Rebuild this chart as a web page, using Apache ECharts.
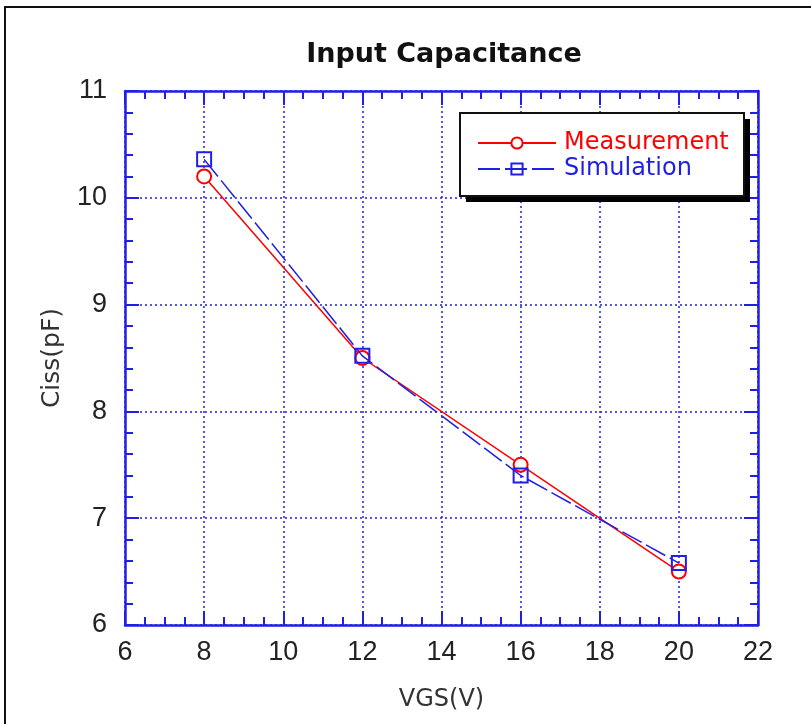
<!DOCTYPE html>
<html>
<head>
<meta charset="utf-8">
<script src="https://cdn.jsdelivr.net/npm/echarts@6/dist/echarts.min.js"></script>
<style>
  html, body { margin: 0; padding: 0; background: #fff; }
  #chart { width: 811px; height: 724px; }
</style>
</head>
<body>
<div id="chart"></div>
<script>
// data
var vgs = [8, 12, 16, 20]
var measurement = [10.2, 8.5, 7.5, 6.5]
var simulation = [10.36, 8.52, 7.4, 6.58]

var blue = '#1f1fe6'
var labelFont = 'Liberation Sans'
var textFont = 'DejaVu Sans'

function pairs(xs, ys) {
  return xs.map(function (x, i) { return [x, ys[i]] })
}

var chart = echarts.init(document.getElementById('chart'))

function axisBase(showLabel, showSplit, split) {
  return {
    type: 'value',
    axisLine: { show: true, lineStyle: { color: blue, width: 2.5 } },
    axisTick: { show: true, inside: true, length: 14, lineStyle: { color: blue, width: 2 } },
    minorTick: { show: true, splitNumber: split, length: 8, lineStyle: { color: blue, width: 2 } },
    axisLabel: { show: showLabel, color: '#222', fontSize: 27, fontFamily: labelFont },
    splitLine: { show: showSplit, lineStyle: { color: blue, type: [2, 3], width: 1.5 } },
    minorSplitLine: { show: false }
  }
}

var xBottom = Object.assign(axisBase(true, true, 4), {
  min: 6, max: 22, interval: 2, position: 'bottom',
  name: 'VGS(V)', nameLocation: 'middle', nameGap: 63,
  nameTextStyle: { color: '#333', fontSize: 24, fontFamily: textFont }
})
xBottom.axisLabel.margin = 14
var xTop = Object.assign(axisBase(false, false, 4), { min: 6, max: 22, interval: 2, position: 'top' })

var yLeft = Object.assign(axisBase(true, true, 5), {
  min: 6, max: 11, interval: 1, position: 'left',
  name: 'Ciss(pF)', nameLocation: 'middle', nameGap: 60,
  nameTextStyle: { color: '#333', fontSize: 25, fontFamily: textFont }
})
yLeft.axisLabel.margin = 18
var yRight = Object.assign(axisBase(false, false, 5), { min: 6, max: 11, interval: 1, position: 'right' })

chart.setOption({
  animation: false,
  backgroundColor: '#fff',
  title: {
    text: 'Input Capacitance',
    left: 439, top: 36, textAlign: 'center',
    textStyle: { fontSize: 27, fontWeight: 'bold', color: '#111', fontFamily: textFont }
  },
  graphic: [{
    type: 'rect',
    shape: { x: 5, y: 7, width: 900, height: 800 },
    style: { fill: 'none', stroke: '#111', lineWidth: 2 },
    silent: true
  }, {
    // legend box shadow
    type: 'rect', z: 3,
    shape: { x: 466, y: 119, width: 284, height: 83 },
    style: { fill: '#000' },
    silent: true
  }, {
    // legend box
    type: 'rect', z: 3,
    shape: { x: 460, y: 113, width: 284, height: 83 },
    style: { fill: '#fff', stroke: '#111', lineWidth: 2 },
    silent: true
  }],
  grid: { left: 125, right: 53, top: 91, bottom: 99 },
  legend: {
    orient: 'vertical',
    left: 477, top: 131,
    padding: 0,
    itemGap: 2,
    itemWidth: 78,
    itemHeight: 14,
    z: 5,
    textStyle: { fontSize: 24, fontFamily: textFont, padding: [0, 0, 0, 3] },
    data: [
      { name: 'Measurement', textStyle: { color: '#f00' } },
      { name: 'Simulation', textStyle: { color: blue } }
    ]
  },
  xAxis: [xBottom, xTop],
  yAxis: [yLeft, yRight],
  series: [{
    name: 'Measurement',
    type: 'line',
    data: pairs(vgs, measurement),
    symbol: 'circle',
    symbolSize: 14,
    color: '#f00',
    lineStyle: { color: '#f00', width: 1.5 },
    itemStyle: { color: '#fff', borderColor: '#f00', borderWidth: 2 },
    z: 3
  }, {
    name: 'Simulation',
    type: 'line',
    data: pairs(vgs, simulation),
    symbol: 'rect',
    symbolSize: 14,
    color: blue,
    lineStyle: { color: blue, width: 1.5, type: [22, 5] },
    itemStyle: { color: 'rgba(255,255,255,0)', borderColor: blue, borderWidth: 2 },
    z: 4
  }]
})
</script>
</body>
</html>
